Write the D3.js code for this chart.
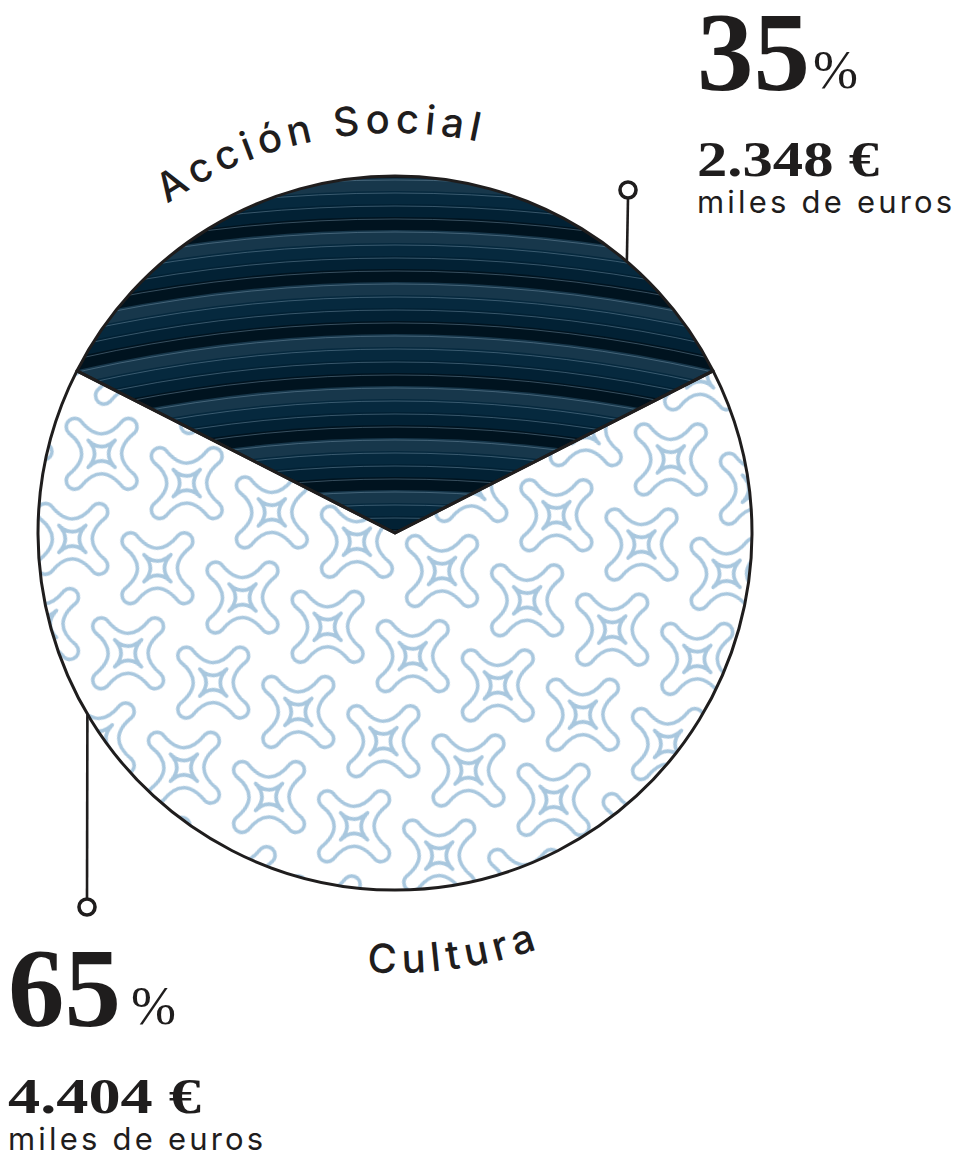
<!DOCTYPE html>
<html>
<head>
<meta charset="utf-8">
<script src="https://cdn.jsdelivr.net/npm/d3@7/dist/d3.min.js"></script>
<style>
  html, body { margin: 0; padding: 0; background: #ffffff; }
  svg { display: block; }
</style>
</head>
<body>
<svg id="chart" width="957" height="1155"></svg>
<script>
// ---- data ----
const categories = ["Acción Social", "Cultura"];
const percents = [35, 65];
const amounts = [2348, 4404];          // miles de euros
const unitLabel = "miles de euros";

// ---- layout ----
const cx = 395, cy = 533, R = 357;
const ink = "#1f1d1d";
const starBlue = "#a8c7de";
const stripeColors = ["#17374b", "#06293e", "#022134", "#00131f"];

const svg = d3.select("#chart");
const defs = svg.append("defs");

const locale = d3.formatLocale({decimal: ",", thousands: ".", grouping: [3], currency: ["", " €"]});
const fmt = locale.format(",");

const share0 = percents[0] / d3.sum(percents);
const pie = d3.pie().sort(null).value(d => d)
  .startAngle(-share0 * Math.PI).endAngle(2 * Math.PI - share0 * Math.PI);
const arcs = pie(percents);
const arcGen = d3.arc().innerRadius(0).outerRadius(R);

// ---- star pattern ----
function outerStar(T, h, k) {
  return `M${T},${-h} A${h},${h} 0 0 1 ${T},${h} Q${k},${k} ${h},${T} ` +
         `A${h},${h} 0 0 1 ${-h},${T} Q${-k},${k} ${-T},${h} ` +
         `A${h},${h} 0 0 1 ${-T},${-h} Q${-k},${-k} ${-h},${-T} ` +
         `A${h},${h} 0 0 1 ${h},${-T} Q${k},${-k} ${T},${-h} Z`;
}
function innerStar(t, k) {
  return `M${t},0 Q${k},${k} 0,${t} Q${-k},${k} ${-t},0 Q${-k},${-k} 0,${-t} Q${k},${-k} ${t},0 Z`;
}
const tile = 90;
const pat = defs.append("pattern")
  .attr("id", "stars")
  .attr("patternUnits", "userSpaceOnUse")
  .attr("x", -tile / 2).attr("y", -tile / 2)
  .attr("width", tile).attr("height", tile)
  .attr("patternTransform", "translate(100,437) rotate(19)");
pat.append("rect").attr("x", 0).attr("y", 0)
  .attr("width", tile).attr("height", tile).attr("fill", "#fff");
const sg = pat.append("g").attr("transform", `translate(${tile / 2},${tile / 2}) rotate(26)`)
  .attr("fill", "none").attr("stroke", starBlue).attr("stroke-width", 3.6)
  .attr("stroke-linejoin", "round");
sg.append("path").attr("d", outerStar(38, 8.5, 5));
sg.append("path").attr("d", innerStar(19, 0.5));

// ---- clip for dark slice ----
defs.append("clipPath").attr("id", "clipA")
  .append("path").attr("transform", `translate(${cx},${cy})`).attr("d", arcGen(arcs[0]));

// ---- Cultura slice ----
svg.append("path")
  .attr("transform", `translate(${cx},${cy})`)
  .attr("d", arcGen(arcs[1]))
  .attr("fill", "url(#stars)");

// ---- Acción Social slice: curved stripes ----
const gA = svg.append("g").attr("clip-path", "url(#clipA)");
const scx = cx, scy = 1750;   // centre of the stripe arcs
const bandTop = 178, period = 52, sub = 13;
const bandYs = [];
for (let k = -1; k < 9; k++) for (let j = 0; j < 4; j++) bandYs.push({y: bandTop + period * k + sub * j, j});
gA.selectAll("circle.band").data(bandYs).join("circle")
  .attr("class", "band")
  .attr("cx", scx).attr("cy", scy)
  .attr("r", d => scy - d.y)
  .attr("fill", d => stripeColors[d.j]);
gA.selectAll("circle.line").data(bandYs).join("circle")
  .attr("class", "line")
  .attr("cx", scx).attr("cy", scy)
  .attr("r", d => scy - d.y - 2)
  .attr("fill", "none")
  .attr("stroke", "#7e9cb0").attr("stroke-width", 0.8).attr("stroke-opacity", 0.55);

// ---- outlines ----
svg.selectAll("path.outline").data(arcs).join("path")
  .attr("class", "outline")
  .attr("transform", `translate(${cx},${cy})`)
  .attr("d", arcGen)
  .attr("fill", "none").attr("stroke", ink).attr("stroke-width", 3)
  .attr("stroke-linejoin", "round");

// ---- leader lines ----
const leaders = [
  {angle: 40.5, endX: 628, endY: 198, dotY: 190},
  {angle: 239.5, endX: 87, endY: 899, dotY: 907}
];
leaders.forEach(l => {
  const a = l.angle * Math.PI / 180;
  const px = cx + R * Math.sin(a), py = cy - R * Math.cos(a);
  svg.append("line").attr("x1", px).attr("y1", py).attr("x2", l.endX).attr("y2", l.endY)
    .attr("stroke", ink).attr("stroke-width", 2.6);
  svg.append("circle").attr("cx", l.endX).attr("cy", l.dotY).attr("r", 8)
    .attr("fill", "#fff").attr("stroke", ink).attr("stroke-width", 3.6);
});

// ---- curved category labels ----
function pt(angleDeg, r) {
  const a = angleDeg * Math.PI / 180;
  return [cx + r * Math.sin(a), cy - r * Math.cos(a)];
}
function arcPath(a0, a1, r, sweep) {
  const p0 = pt(a0, r), p1 = pt(a1, r);
  return `M${p0[0]},${p0[1]} A${r},${r} 0 0 ${sweep} ${p1[0]},${p1[1]}`;
}
const labelDefs = [
  {id: "lblTop", d: arcPath(-71, 49, 400, 1)},
  {id: "lblBot", d: arcPath(232, 112, 440, 0)}
];
labelDefs.forEach(l => defs.append("path").attr("id", l.id).attr("d", l.d));
categories.forEach((c, i) => {
  svg.append("text")
    .attr("font-family", "Inter, 'Noto Sans', sans-serif")
    .attr("font-size", 40).attr("font-weight", 500).attr("fill", ink)
    .attr("letter-spacing", 5.5)
    .append("textPath")
    .attr("href", "#" + labelDefs[i].id)
    .attr("startOffset", "50%")
    .attr("text-anchor", "middle")
    .text(c);
});

// ---- value blocks ----
const blocks = [
  {x: 697, pctY: 90, pctSignX: 813, amtY: 176, amtW: 182, unitY: 213},
  {x: 8,   pctY: 1026, pctSignX: 131, amtY: 1113, amtW: 193, unitY: 1150}
];
const serif = "'Liberation Serif', 'DejaVu Serif', serif";
blocks.forEach((b, i) => {
  svg.append("text").attr("x", b.x).attr("y", b.pctY)
    .attr("font-family", serif)
    .attr("font-weight", 700).attr("font-size", 113).attr("fill", ink)
    .text(percents[i]);
  svg.append("text").attr("x", b.pctSignX).attr("y", b.pctY - 2)
    .attr("font-family", serif)
    .attr("font-weight", 400).attr("font-size", 54).attr("fill", ink)
    .text("%");
  svg.append("text").attr("x", b.x).attr("y", b.amtY)
    .attr("font-family", serif)
    .attr("font-weight", 700).attr("font-size", 50).attr("fill", ink)
    .attr("textLength", b.amtW).attr("lengthAdjust", "spacingAndGlyphs")
    .text(fmt(amounts[i]) + " €");
  svg.append("text").attr("x", b.x).attr("y", b.unitY)
    .attr("font-family", "Inter, 'Noto Sans', sans-serif")
    .attr("font-size", 31).attr("fill", ink)
    .attr("letter-spacing", 3.2)
    .text(unitLabel);
});
</script>
</body>
</html>
